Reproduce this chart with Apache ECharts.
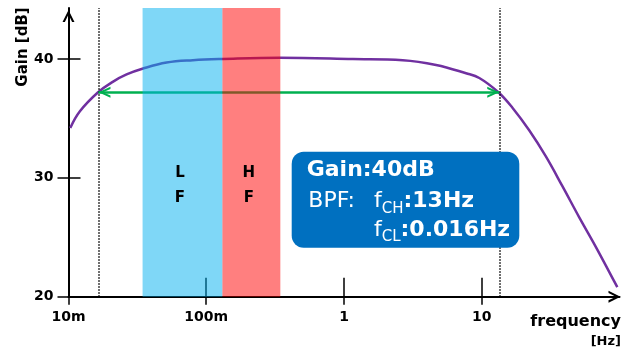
<!DOCTYPE html>
<html><head><meta charset="utf-8">
<script src="https://cdn.jsdelivr.net/npm/echarts@6/dist/echarts.min.js"></script>
<style>html,body{margin:0;padding:0;background:#fff}#c{width:633px;height:351px}</style>
</head><body><div id="c"></div>
<script>
// ---- data ----
const xTicks = [0.01, 0.1, 1, 10];
const xTickLabels = ['10m', '100m', '1', '10'];
const yTicks = [20, 30, 40];
const yInnerTicks = [30, 40];
const freq = [0.0103, 0.0121, 0.0164, 0.0211, 0.0264, 0.0348, 0.0515, 0.080, 0.132, 0.341, 1.16, 2.67, 4.66, 7.69, 9.6, 13.2, 16.7, 22.1, 29.2, 38.5, 50.9, 67.3, 96.4];
const gain = [34.2, 35.6, 37.2, 38.1, 38.7, 39.2, 39.7, 39.9, 40.0, 40.1, 40.0, 39.9, 39.5, 38.8, 38.4, 37.2, 35.9, 34.0, 31.8, 29.3, 26.7, 24.2, 20.8];
const bandNames = ['L\nF', 'H\nF'];
const bandFrom = [0.0345, 0.131];
const bandTo = [0.131, 0.345];
const bandColors = ['rgba(0,176,240,0.5)', 'rgba(255,0,0,0.5)'];
const cutoffFreq = [0.0165, 13.4];
const cutoffGain = 37.2;

// ---- chart ----
const FONT = '"DejaVu Sans"';
const chevron = 'path://M0,12 L6,0 L12,12 L9.6,12 L6,4.6 L2.4,12 Z';
const fmtX = v => {
  for (let i = 0; i < xTicks.length; i++) {
    if (Math.abs(Math.log10(v) - Math.log10(xTicks[i])) < 1e-6) return xTickLabels[i];
  }
  return '';
};
const chart = echarts.init(document.getElementById('c'), null, {renderer: 'canvas'});
const lineData = freq.map((f, i) => [f, gain[i]]);
const areaData = bandFrom.map((f, i) => [
  {name: bandNames[i], xAxis: f, itemStyle: {color: bandColors[i]}},
  {xAxis: bandTo[i]}
]);

const option = {
  animation: false,
  markArea: {z: 6},
  markLine: {z: 4},
  grid: {left: 68.5, right: 13.5, top: 8, bottom: 54.3},
  xAxis: [{
    type: 'log', min: 0.01, max: 100, logBase: 10, position: 'bottom',
    axisLine: {lineStyle: {color: '#000', width: 2}, symbol: ['none', chevron], symbolSize: [12, 12], symbolOffset: [0, -5]},
    axisTick: {show: true, inside: false, length: 8, lineStyle: {color: '#000', width: 1.5}, customValues: xTicks},
    axisLabel: {customValues: xTicks, formatter: fmtX, margin: 14, color: '#000', fontFamily: FONT, fontWeight: 'bold', fontSize: 14},
    splitLine: {show: false}, minorTick: {show: false}
  }, {
    type: 'log', min: 0.01, max: 100, logBase: 10, position: 'bottom',
    axisLine: {show: false},
    axisTick: {show: true, inside: true, length: 19, lineStyle: {color: '#000', width: 1.5}, customValues: xTicks},
    axisLabel: {show: false}, splitLine: {show: false}
  }],
  yAxis: [{
    type: 'value', min: 20, max: 44.29, position: 'left',
    axisLine: {show: true, lineStyle: {color: '#000', width: 2}, symbol: ['none', chevron], symbolSize: [12, 12], symbolOffset: [0, -8]},
    axisTick: {show: true, inside: false, length: 11, lineStyle: {color: '#000', width: 1.5}, customValues: yTicks},
    axisLabel: {customValues: yTicks, margin: 15, color: '#000', fontFamily: FONT, fontWeight: 'bold', fontSize: 14},
    splitLine: {show: false}
  }, {
    type: 'value', min: 20, max: 44.29, position: 'left',
    axisLine: {show: false},
    axisTick: {show: true, inside: true, length: 12, lineStyle: {color: '#000', width: 1.5}, customValues: yInnerTicks},
    axisLabel: {show: false}, splitLine: {show: false}
  }],
  series: [{
    type: 'line', xAxisIndex: 0, yAxisIndex: 0, data: lineData, smooth: 0.4,
    symbol: 'none', z: 2,
    lineStyle: {color: '#7030A0', width: 2.5},
    markLine: {
      silent: true, symbol: 'none', label: {show: false}, precision: 5,
      lineStyle: {color: '#000', type: 'dotted', width: 1.5},
      data: cutoffFreq.map(f => ({xAxis: f}))
    }
  }, {
    type: 'line', xAxisIndex: 0, yAxisIndex: 0, data: [], z: 3,
    markLine: {
      silent: true, symbol: [chevron, chevron], symbolSize: [11, 12], precision: 5,
      symbolOffset: [[0, 6], [0, 6]],
      label: {show: false},
      lineStyle: {color: '#00B050', width: 2.5, type: 'solid'},
      data: [[{coord: [cutoffFreq[0], cutoffGain]}, {coord: [cutoffFreq[1], cutoffGain]}]]
    }
  }, {
    type: 'line', xAxisIndex: 0, yAxisIndex: 0, data: [], z: 5,
    markArea: {
      silent: true, z: 6,
      label: {show: true, position: 'inside', offset: [-2.5, 33], color: '#000', fontFamily: FONT, fontWeight: 'bold', fontSize: 15, lineHeight: 25},
      data: areaData
    }
  }],
  graphic: [
    {type: 'text', x: 23, y: 47, rotation: Math.PI / 2, style: {text: 'Gain [dB]', fontFamily: 'DejaVu Sans', fontWeight: 'bold', fontSize: 15, fill: '#000', align: 'center', verticalAlign: 'middle'}},
    {type: 'text', x: 621, y: 321.7, style: {text: 'frequency', fontFamily: 'DejaVu Sans', fontWeight: 'bold', fontSize: 16, fill: '#000', align: 'right', verticalAlign: 'middle'}},
    {type: 'text', x: 621, y: 341.7, style: {text: '[Hz]', fontFamily: 'DejaVu Sans', fontWeight: 'bold', fontSize: 13, fill: '#000', align: 'right', verticalAlign: 'middle'}},
    {type: 'rect', shape: {x: 291.7, y: 151.7, width: 227.6, height: 96, r: 12}, style: {fill: '#0070C0'}, z: 10},
    {type: 'text', x: 306.7, y: 170, z: 11, style: {text: 'Gain:40dB', fontFamily: 'DejaVu Sans', fontWeight: 'bold', fontSize: 22, fill: '#fff', verticalAlign: 'middle'}},
    {type: 'text', x: 308.3, y: 201.7, z: 11, style: {text: 'BPF:', fontFamily: 'DejaVu Sans', fontSize: 22, fill: '#fff', verticalAlign: 'middle'}},
    {type: 'text', x: 374, y: 201.7, z: 11, style: {
      text: '{r|f}{s|CH}{b|:13Hz}', verticalAlign: 'middle',
      rich: {
        r: {fontFamily: 'DejaVu Sans', fontSize: 22, fill: '#fff', lineHeight: 30},
        s: {fontFamily: 'DejaVu Sans', fontSize: 15, fill: '#fff', lineHeight: 14, verticalAlign: 'bottom'},
        b: {fontFamily: 'DejaVu Sans', fontWeight: 'bold', fontSize: 22, fill: '#fff', lineHeight: 30}
      }}},
    {type: 'text', x: 374, y: 230, z: 11, style: {
      text: '{r|f}{s|CL}{b|:0.016Hz}', verticalAlign: 'middle',
      rich: {
        r: {fontFamily: 'DejaVu Sans', fontSize: 22, fill: '#fff', lineHeight: 30},
        s: {fontFamily: 'DejaVu Sans', fontSize: 15, fill: '#fff', lineHeight: 14, verticalAlign: 'bottom'},
        b: {fontFamily: 'DejaVu Sans', fontWeight: 'bold', fontSize: 22, fill: '#fff', lineHeight: 30}
      }}}
  ]
};
chart.setOption(option);
</script></body></html>
